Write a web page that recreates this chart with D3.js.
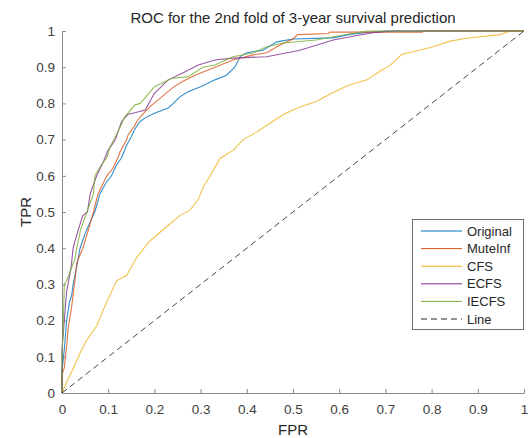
<!DOCTYPE html>
<html lang="en">
<head>
    <meta charset="UTF-8">
    <title>ROC for the 2nd fold of 3-year survival prediction</title>
    <script src="https://d3js.org/d3.v7.min.js"></script>
    <style>
        body {
            margin: 0;
            background: white;
            font-family: "Liberation Sans", Arial, sans-serif;
        }
        .axis path, .axis line {
            stroke: #8a8a8a;
        }
        .axis text {
            fill: #404040;
            font-size: 13.5px;
        }
    </style>
</head>
<body>
    <svg width="530" height="438"></svg>

    <script>
        // [fpr, tpr] points
        const original = [[0,0],[0,0.06],[0.005,0.12],[0.01,0.2],[0.016,0.25],[0.021,0.27],[0.024,0.3],[0.032,0.35],[0.039,0.4],[0.05,0.44],[0.06,0.47],[0.071,0.5],[0.082,0.55],[0.095,0.58],[0.107,0.6],[0.118,0.63],[0.129,0.65],[0.14,0.685],[0.147,0.7],[0.158,0.73],[0.169,0.75],[0.18,0.76],[0.2,0.773],[0.23,0.787],[0.241,0.8],[0.255,0.818],[0.273,0.832],[0.3,0.846],[0.331,0.865],[0.356,0.878],[0.374,0.9],[0.386,0.93],[0.4,0.94],[0.435,0.947],[0.465,0.97],[0.5,0.978],[0.587,0.981],[0.62,0.99],[0.66,0.996],[0.7,1],[1,1]];
        const muteInf = [[0,0],[0,0.05],[0.005,0.07],[0.01,0.13],[0.014,0.185],[0.02,0.23],[0.024,0.27],[0.028,0.31],[0.032,0.36],[0.045,0.4],[0.057,0.45],[0.068,0.5],[0.078,0.55],[0.097,0.6],[0.11,0.62],[0.121,0.65],[0.126,0.667],[0.14,0.7],[0.143,0.713],[0.158,0.74],[0.162,0.75],[0.173,0.768],[0.195,0.796],[0.216,0.818],[0.241,0.845],[0.26,0.86],[0.288,0.878],[0.331,0.9],[0.37,0.92],[0.414,0.934],[0.443,0.94],[0.47,0.96],[0.5,0.978],[0.51,0.99],[0.576,0.993],[0.58,0.997],[0.78,0.997],[0.78,1],[1,1]];
        const cfs = [[0,0],[0.01,0.03],[0.025,0.07],[0.039,0.11],[0.053,0.145],[0.075,0.185],[0.086,0.22],[0.1,0.26],[0.118,0.31],[0.14,0.325],[0.162,0.375],[0.19,0.42],[0.227,0.46],[0.255,0.49],[0.277,0.505],[0.295,0.535],[0.306,0.57],[0.324,0.607],[0.342,0.648],[0.371,0.671],[0.392,0.7],[0.42,0.72],[0.45,0.745],[0.48,0.77],[0.515,0.79],[0.55,0.805],[0.587,0.83],[0.62,0.85],[0.66,0.865],[0.69,0.89],[0.71,0.905],[0.735,0.935],[0.8,0.955],[0.84,0.972],[0.876,0.98],[0.948,0.99],[0.97,1],[1,1]];
        const ecfs = [[0,0],[0,0.12],[0.005,0.2],[0.01,0.28],[0.013,0.3],[0.02,0.35],[0.024,0.4],[0.035,0.45],[0.045,0.49],[0.055,0.5],[0.061,0.55],[0.075,0.6],[0.09,0.64],[0.1,0.671],[0.115,0.699],[0.129,0.75],[0.143,0.77],[0.16,0.775],[0.18,0.782],[0.2,0.828],[0.23,0.865],[0.26,0.883],[0.295,0.906],[0.331,0.92],[0.37,0.925],[0.443,0.929],[0.515,0.947],[0.587,0.975],[0.645,0.989],[0.673,0.995],[0.716,1],[1,1]];
        const iecfs = [[0,0],[0,0.1],[0.003,0.2],[0.005,0.3],[0.01,0.31],[0.028,0.37],[0.032,0.4],[0.04,0.45],[0.054,0.5],[0.068,0.55],[0.071,0.6],[0.085,0.63],[0.097,0.65],[0.104,0.68],[0.121,0.722],[0.136,0.763],[0.158,0.796],[0.169,0.8],[0.18,0.815],[0.2,0.846],[0.237,0.869],[0.273,0.874],[0.305,0.9],[0.331,0.906],[0.37,0.929],[0.414,0.939],[0.44,0.955],[0.478,0.967],[0.55,0.975],[0.587,0.984],[0.66,1],[1,1]];
        const chanceLine = [[0,0],[1,1]];

        const seriesNames = ["Original", "MuteInf", "CFS", "ECFS", "IECFS", "Line"];
        const seriesColors = ["#0072BD", "#D95319", "#EDB120", "#7E2F8E", "#77AC30", "#262626"];
        const seriesData = [original, muteInf, cfs, ecfs, iecfs, chanceLine];
        const ticks = d3.range(0, 11).map(i => i / 10);

        const margin = { top: 31, right: 6, bottom: 45, left: 62 },
              width = 530 - margin.left - margin.right,
              height = 438 - margin.top - margin.bottom;

        const svg = d3.select("svg")
                      .append("g")
                      .attr("transform", `translate(${margin.left},${margin.top})`);

        const x = d3.scaleLinear().domain([0, 1]).range([0, width]);
        const y = d3.scaleLinear().domain([0, 1]).range([height, 0]);

        const fmt = d => d === 0 ? "0" : d === 1 ? "1" : d3.format(".1f")(d);

        // axes, MATLAB style: ticks pointing inwards, no box
        const xAxis = svg.append("g")
            .attr("class", "axis")
            .attr("transform", `translate(0,${height})`)
            .call(d3.axisBottom(x).tickValues(ticks).tickFormat(fmt).tickSizeInner(-4).tickSizeOuter(0).tickPadding(21));
        xAxis.selectAll("text").attr("dy", "0");

        const yAxis = svg.append("g")
            .attr("class", "axis")
            .call(d3.axisLeft(y).tickValues(ticks).tickFormat(fmt).tickSizeInner(-4).tickSizeOuter(0).tickPadding(7));

        const line = d3.line().x(d => x(d[0])).y(d => y(d[1]));

        seriesData.forEach((data, i) => {
            svg.append("path")
               .datum(data)
               .attr("fill", "none")
               .attr("stroke", seriesColors[i])
               .attr("stroke-width", i === 5 ? 1 : 1.1)
               .attr("stroke-opacity", i === 5 ? 0.85 : 0.8)
               .attr("stroke-dasharray", i === 5 ? "6,4" : null)
               .attr("d", line);
        });

        // title and axis labels
        svg.append("text")
           .attr("x", width / 2)
           .attr("y", -8)
           .attr("text-anchor", "middle")
           .attr("fill", "#262626")
           .style("font-size", "15px")
           .text("ROC for the 2nd fold of 3-year survival prediction");

        svg.append("text")
           .attr("x", width / 2)
           .attr("y", height + 42)
           .attr("text-anchor", "middle")
           .attr("fill", "#262626")
           .style("font-size", "15px")
           .text("FPR");

        svg.append("text")
           .attr("transform", "rotate(-90)")
           .attr("x", -height / 2)
           .attr("y", -31)
           .attr("text-anchor", "middle")
           .attr("fill", "#262626")
           .style("font-size", "15px")
           .text("TPR");

        // legend
        const legend = svg.append("g")
            .attr("transform", `translate(${412 - margin.left},${219 - margin.top})`);

        legend.append("rect")
              .attr("x", 0.5)
              .attr("y", 0.5)
              .attr("width", 111)
              .attr("height", 110)
              .attr("fill", "white")
              .attr("stroke", "#6e6e6e");

        seriesNames.forEach((name, i) => {
            const row = legend.append("g").attr("transform", `translate(0,${12 + i * 17.6})`);
            row.append("line")
               .attr("x1", 9).attr("x2", 50)
               .attr("stroke", seriesColors[i])
               .attr("stroke-width", 1)
               .attr("stroke-dasharray", i === 5 ? "6,4" : null);
            row.append("text")
               .attr("x", 55)
               .attr("dy", "0.35em")
               .attr("fill", "#262626")
               .style("font-size", "13px")
               .text(name);
        });
    </script>
</body>
</html>
